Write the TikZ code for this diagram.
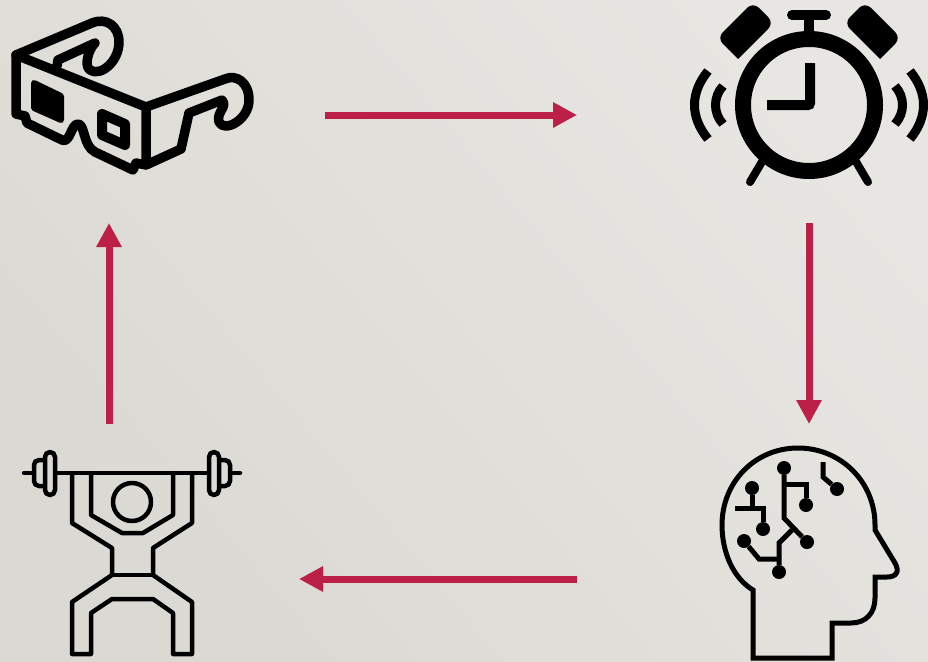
\documentclass[tikz,border=0pt]{standalone}
\usepackage{tikz}
\usetikzlibrary{arrows.meta, positioning, calc}
\definecolor{crimson}{HTML}{BC1F47}
\definecolor{wallhi}{HTML}{E8E6E2}
\definecolor{walllo}{HTML}{DBD9D3}

\begin{document}
\begin{tikzpicture}[
    x=1pt, y=-1pt,
    arr/.style={-{Triangle[length=24pt, width=24pt]}, line width=7pt, crimson},
    thickline/.style={line width=9.5pt, line join=round, line cap=round},
    clockline/.style={line width=9pt},
    headline/.style={line width=5pt, line join=miter},
    dot/.style={circle, fill=black, inner sep=0pt, minimum size=14pt},
    liftline/.style={line width=4.5pt, line join=round},
  ]
    \shade[shading=axis, bottom color=walllo, top color=wallhi, shading angle=-50]
      (0,0) rectangle (928,661);
    \useasboundingbox (0,0) rectangle (928,661);

    % connector ends
    \coordinate (glassesout) at (325,115);
    \coordinate (clockin)    at (577,115);
    \coordinate (clockout)   at (809,223);
    \coordinate (brainin)    at (809,424);
    \coordinate (brainout)   at (577,579);
    \coordinate (lifterin)   at (299,579);
    \coordinate (lifterout)  at (109,424);
    \coordinate (glassesin)  at (109,223);

    \draw[arr] (glassesout) -- (clockin);
    \draw[arr] (clockout)   -- (brainin);
    \draw[arr] (brainout)   -- (lifterin);
    \draw[arr] (lifterout)  -- (glassesin);

    % glasses
    \draw[thickline] (16,55) -- (16,114) -- (25,116) -- (27,123) -- (62,140)
      .. controls (70,144) and (71,124) .. (78,124)
      .. controls (85,124) and (83,146) .. (95,152)
      -- (133,170) -- (136,163) -- (146,165) -- (181,149) -- (189,113)
      -- (222,100) .. controls (228,107) and (216,112) .. (219,122)
      .. controls (224,133) and (249,120) .. (249,100)
      .. controls (249,82) and (236,74) .. (225,79)
      -- (146,107) -- (146,165);
    \draw[thickline] (16,55) -- (146,107);
    \draw[thickline] (16,55) -- (92,23)
      .. controls (106,17) and (119,26) .. (119,42)
      .. controls (119,62) and (100,77) .. (90,70)
      .. controls (84,66) and (88,50) .. (95,43)
      -- (58,60) -- (57,66);
    \draw[line width=6pt, line join=round, fill=black]
      (34,83) -- (61,96) -- (61,120) -- (34,108) -- cycle;
    \draw[line width=10pt, line join=round]
      (102,114) -- (125,124) -- (125,145) -- (102,135) -- cycle;

    % clock
    \draw[line width=16pt] (809,105) circle (66);
    \draw[line width=10pt, rounded corners=2pt] (767,105) -- (810,105) -- (810,63);
    \draw[line width=10pt] (809,15) -- (809,35);
    \draw[line width=10pt, line cap=round] (792,15) -- (826,15);
    \foreach \sgn in {1,-1} {
      \fill[rounded corners=8pt] (809-\sgn*56,2) -- (809-\sgn*35,23)
        [sharp corners] -- (809-\sgn*71,59) [rounded corners=8pt] -- (809-\sgn*92,38) -- cycle;
      \draw[line width=8pt, line cap=round] (809-\sgn*46,160) -- (809-\sgn*59,182);
      \draw[clockline] (809-\sgn*101,71) .. controls (809-\sgn*119,93) and (809-\sgn*119,117) .. (809-\sgn*101,139);
      \draw[clockline] (809-\sgn*86,86) .. controls (809-\sgn*96,97) and (809-\sgn*96,113) .. (809-\sgn*86,124);
    }

    % head
    \draw[headline] (753,658) -- (753,590)
      .. controls (733,578) and (722,552) .. (722,525)
      .. controls (722,482) and (755,448) .. (798,448)
      .. controls (841,448) and (875,482) .. (875,525)
      -- (875,530) -- (895,563)
      .. controls (900,572) and (896,577) .. (887,577)
      -- (875,577) -- (875,598)
      .. controls (875,613) and (866,623) .. (851,623)
      -- (832,623) -- (832,658) -- cycle;
    \node[dot] (a) at (784,468) {};
    \node[dot] (b) at (807,542) {};
    \node[dot] (c) at (806,505) {};
    \node[dot] (d) at (779,572) {};
    \node[dot] (e) at (744,541) {};
    \node[dot] (f) at (752,488) {};
    \node[dot] (g) at (763,529) {};
    \node[dot] (h) at (837,489) {};
    \draw[headline] (a) -- (784,518) -- (b);
    \draw[headline] (784,484) -- (806,484) -- (c);
    \draw[headline] (792,530) -- (779,543) -- (d);
    \draw[headline] (e) -- (759,559) -- (779,559);
    \draw[headline] (f) -- (752,508);
    \draw[headline] (735,508) -- (763,508) -- (g);
    \draw[headline] (823,462) -- (823,477) -- (h);

    % lifter
    \draw[liftline, line cap=round] (24,473) -- (33,473);
    \draw[liftline, line cap=round] (240,473) -- (231,473);
    \draw[liftline] (55,473) -- (209,473);
    \foreach \sgn/\xa in {1/0, -1/264} {
      \draw[liftline, rounded corners=5pt] (\xa+\sgn*45,452) rectangle (\xa+\sgn*55,495);
      \draw[liftline, rounded corners=5pt] (\xa+\sgn*45,460) -- (\xa+\sgn*34,460) -- (\xa+\sgn*34,486) -- (\xa+\sgn*45,486);
    }
    \draw[liftline] (72,473) -- (72,523) -- (112,548) -- (112,575) -- (72,602)
      -- (72,654) -- (91,654) -- (91,613) -- (112,599) -- (153,599) -- (173,613)
      -- (173,654) -- (192,654) -- (192,602) -- (153,575) -- (153,548) -- (192,523) -- (192,473);
    \draw[liftline] (112,575) -- (153,575);
    \draw[liftline] (91,473) -- (91,515) -- (122,533) -- (143,533) -- (173,515) -- (173,473);
    \draw[liftline] (132,502) circle (19);
  \end{tikzpicture}
\end{document}
